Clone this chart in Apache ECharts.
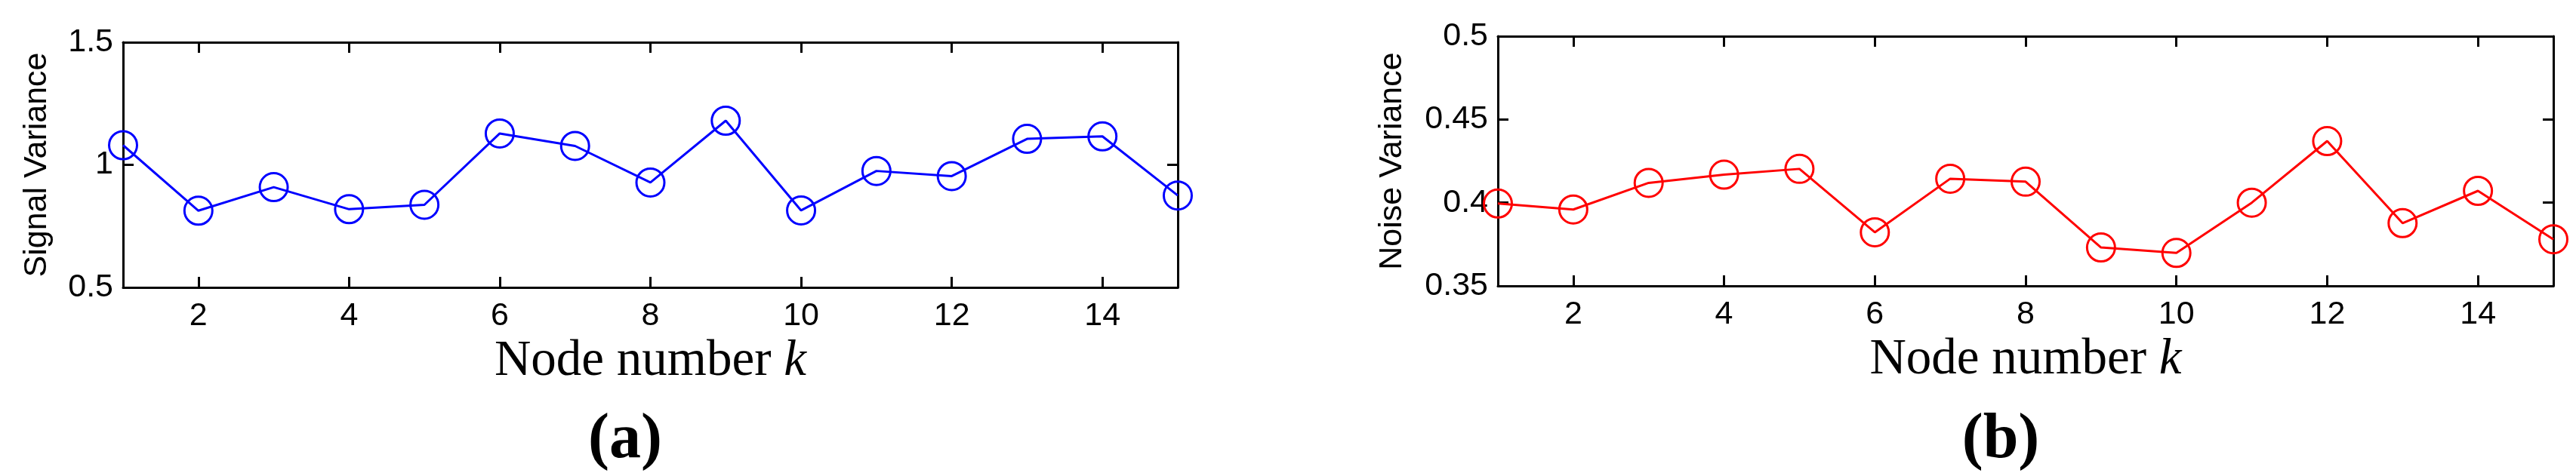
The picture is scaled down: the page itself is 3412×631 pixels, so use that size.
<!DOCTYPE html>
<html><head><meta charset="utf-8">
<script src="https://cdn.jsdelivr.net/npm/echarts@6.0.0/dist/echarts.min.js"></script>
<style>html,body{margin:0;padding:0;background:#fff}#c{width:3412px;height:631px}</style>
</head><body><div id="c"></div>
<script>
// ---- data ----
const nodes = ['1','2','3','4','5','6','7','8','9','10','11','12','13','14','15'];
const signalVariance = [1.080,0.813,0.909,0.819,0.837,1.128,1.077,0.928,1.180,0.814,0.975,0.954,1.106,1.116,0.875];
const noiseVariance = [0.3995,0.3959,0.4119,0.4168,0.4203,0.3822,0.4144,0.4126,0.3731,0.3698,0.4000,0.4370,0.3877,0.4071,0.3780];
const signalAxis = {min:0.5, max:1.5, interval:0.5};
const noiseAxis = {min:0.35, max:0.5, interval:0.05};
const xName = 'Node number ';
const xNameVar = 'k';
const panelLabels = ['(a)','(b)'];

// ---- styles ----
const AX = '#000';
const sans = "'Liberation Sans', Arial, Helvetica, sans-serif";
const serif = "'Liberation Serif', 'Times New Roman', serif";
const showEven = (i) => (i + 1) % 2 === 0;
const lineAx = {show:true, lineStyle:{color:AX, width:3}};
const tickAx = {show:true, inside:true, length:14, lineStyle:{color:AX, width:3}};

function xAxes(gi){
  return [{
    type:'category', gridIndex:gi, data:nodes, boundaryGap:false, position:'bottom',
    axisLine:lineAx, axisTick:Object.assign({interval:showEven}, tickAx),
    axisLabel:{interval:showEven, margin:17, fontFamily:sans, fontSize:43, color:'#000'},
    splitLine:{show:false},
    name:'{n|' + xName + '}{k|' + xNameVar + '}', nameLocation:'middle', nameGap:62,
    nameTextStyle:{rich:{
      n:{fontFamily:serif, fontSize:67, color:'#000'},
      k:{fontFamily:serif, fontSize:67, fontStyle:'italic', color:'#000'}
    }}
  },{
    type:'category', gridIndex:gi, data:nodes, boundaryGap:false, position:'top',
    axisLine:lineAx, axisTick:Object.assign({interval:showEven}, tickAx),
    axisLabel:{show:false}, splitLine:{show:false}
  }];
}
function yAxes(gi, t, name, gap){
  return [{
    type:'value', gridIndex:gi, min:t.min, max:t.max, interval:t.interval, position:'left',
    axisLine:lineAx, axisTick:tickAx,
    axisLabel:{margin:13, fontFamily:sans, fontSize:43, color:'#000'},
    splitLine:{show:false},
    name:name, nameLocation:'middle', nameGap:gap,
    nameTextStyle:{fontFamily:sans, fontSize:43, color:'#000'}
  },{
    type:'value', gridIndex:gi, min:t.min, max:t.max, interval:t.interval, position:'right',
    axisLine:lineAx, axisTick:tickAx, axisLabel:{show:false}, splitLine:{show:false}
  }];
}
function lineSeries(xi, yi, data, color){
  return {
    type:'line', xAxisIndex:xi, yAxisIndex:yi, data:data,
    symbol:'circle', symbolSize:37, showAllSymbol:true,
    itemStyle:{color:'rgba(0,0,0,0)', borderColor:color, borderWidth:3},
    lineStyle:{color:color, width:3},
    emphasis:{disabled:true}, silent:true, clip:false
  };
}

const chart = echarts.init(document.getElementById('c'), null, {renderer:'canvas'});
chart.setOption({
  animation:false,
  backgroundColor:'#fff',
  grid:[
    {left:163, top:56, width:1397, height:325},
    {left:1984, top:48, width:1398, height:331}
  ],
  xAxis: xAxes(0).concat(xAxes(1)),
  yAxis: yAxes(0, signalAxis, 'Signal Variance', 92).concat(yAxes(1, noiseAxis, 'Noise Variance', 118)),
  series:[
    lineSeries(0, 0, signalVariance, '#0000ff'),
    lineSeries(2, 2, noiseVariance, '#ff0000')
  ],
  graphic:[
    {type:'text', x:828, y:584, style:{text:panelLabels[0], font:"bold 84px 'Liberation Serif'", textAlign:'center', textVerticalAlign:'middle', fill:'#000'}},
    {type:'text', x:2650, y:584, style:{text:panelLabels[1], font:"bold 84px 'Liberation Serif'", textAlign:'center', textVerticalAlign:'middle', fill:'#000'}}
  ]
});
</script>
</body></html>
